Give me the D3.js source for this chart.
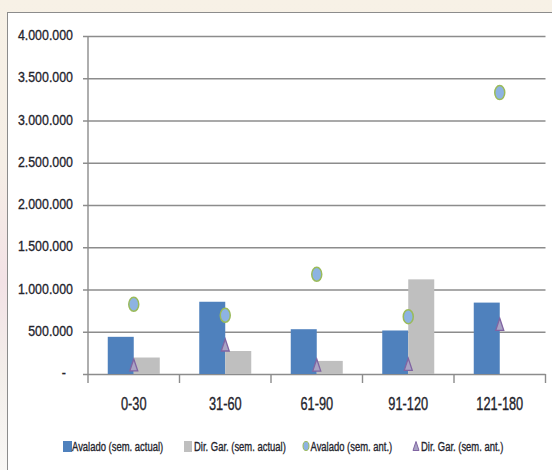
<!DOCTYPE html>
<html>
<head>
<meta charset="utf-8">
<script src="https://cdn.jsdelivr.net/npm/d3@7"></script>
<style>
  html, body { margin: 0; padding: 0; background: #ffffff; }
  svg { display: block; }
  text { font-family: "Liberation Sans", Arial, sans-serif; fill: #24242c; stroke: #24242c; stroke-width: 0.35px; }
</style>
</head>
<body>
<svg id="chart" width="552" height="470"></svg>
<script>
// Aging buckets (days) and amounts per series
const categories = ["0-30", "31-60", "61-90", "91-120", "121-180"];
const avaladoActual = [440000, 855000, 530000, 515000, 845000];
const dirGarActual = [195000, 272000, 155000, 1120000, 0];
const avaladoAnt = [825000, 695000, 1180000, 678000, 3330000];
const dirGarAnt = [107000, 343000, 106000, 115000, 588000];
const yTicks = [0, 500000, 1000000, 1500000, 2000000, 2500000, 3000000, 3500000, 4000000];
const legendLabels = ["Avalado (sem. actual)", "Dir. Gar. (sem. actual)", "Avalado (sem. ant.)", "Dir. Gar. (sem. ant.)"];

const svg = d3.select("#chart");

// soft tinted margin outside the chart frame
const defs = svg.append("defs");
const grad = defs.append("linearGradient").attr("id", "edge").attr("x1", 0).attr("y1", 0).attr("x2", 0).attr("y2", 1);
grad.append("stop").attr("offset", "0%").attr("stop-color", "#f7f1e6");
grad.append("stop").attr("offset", "35%").attr("stop-color", "#f5eee6");
grad.append("stop").attr("offset", "60%").attr("stop-color", "#f3e2e6");
grad.append("stop").attr("offset", "80%").attr("stop-color", "#f3eeea");
grad.append("stop").attr("offset", "100%").attr("stop-color", "#f8f7f5");
svg.append("rect").attr("x", 0).attr("y", 0).attr("width", 552).attr("height", 470).attr("fill", "url(#edge)");
svg.append("rect").attr("x", 7.5).attr("y", 12.5).attr("width", 560).attr("height", 480)
  .attr("fill", "#ffffff").attr("stroke", "#8c8c8c").attr("stroke-width", 1);

const plot = { left: 88, right: 545.5, top: 36, bottom: 374 };

const y = d3.scaleLinear().domain([0, 4000000]).range([plot.bottom, plot.top]);
const x = d3.scaleBand().domain(categories).range([plot.left, plot.right]).paddingInner(0).paddingOuter(0);
const barW = 26;
const sub = d3.scaleBand().domain(["actual", "dirgar"]).range([-barW, barW]);

const fmt = v => v === 0 ? "-" : d3.format(",")(v).replace(/,/g, ".");

// condensed text: horizontal squeeze around the anchor point
function squeezed(sel, px, py, sx) {
  return sel.attr("transform", `translate(${px},${py}) scale(${sx},1)`);
}

// horizontal gridlines with left tick stubs
const yAxis = d3.axisLeft(y).tickValues(yTicks).tickSize(-(plot.right - plot.left) - 5).tickFormat("");
const gy = svg.append("g").attr("transform", `translate(${plot.left - 5},0)`).call(yAxis);
gy.select(".domain").remove();
gy.selectAll(".tick line").attr("stroke", "#8c8c8c").attr("stroke-width", 1.4).attr("x1", 0).attr("x2", plot.right - plot.left + 5);

// value labels
svg.append("g").selectAll("text").data(yTicks).join("text")
  .attr("text-anchor", "end").attr("font-size", 15.5).attr("dy", "0.3em")
  .each(function (d) { squeezed(d3.select(this), d === 0 ? 66 : 73, y(d) - 0.5, 0.8); })
  .text(fmt);

// vertical value axis line
svg.append("line").attr("x1", plot.left).attr("x2", plot.left).attr("y1", plot.top).attr("y2", plot.bottom + 9)
  .attr("stroke", "#8c8c8c").attr("stroke-width", 1.4);

// category tick marks at band boundaries
const boundaries = categories.map(c => x(c)).concat([plot.right]);
svg.append("g").selectAll("line").data(boundaries.slice(1)).join("line")
  .attr("x1", d => d).attr("x2", d => d).attr("y1", plot.bottom).attr("y2", plot.bottom + 9)
  .attr("stroke", "#8c8c8c").attr("stroke-width", 1.4);

// category labels
svg.append("g").selectAll("text").data(categories).join("text")
  .attr("text-anchor", "middle").attr("font-size", 17.5)
  .each(function (d) { squeezed(d3.select(this), x(d) + x.bandwidth() / 2, 409.5, 0.73); })
  .text(d => d);

// bars
const cx = d => x(d) + x.bandwidth() / 2;
svg.append("g").selectAll("rect").data(categories).join("rect")
  .attr("x", d => cx(d) + sub("actual")).attr("width", sub.bandwidth())
  .attr("y", (d, i) => y(avaladoActual[i])).attr("height", (d, i) => y(0) - y(avaladoActual[i]))
  .attr("fill", "#4f81bd");
svg.append("g").selectAll("rect").data(categories).join("rect")
  .attr("x", d => cx(d) + sub("dirgar")).attr("width", sub.bandwidth())
  .attr("y", (d, i) => y(dirGarActual[i])).attr("height", (d, i) => y(0) - y(dirGarActual[i]))
  .attr("fill", "#bfbfbf");

// previous-period markers
const tri = (w, h) => `M0,${-h / 2}L${w / 2},${h / 2}L${-w / 2},${h / 2}Z`;
svg.append("g").selectAll("ellipse").data(categories).join("ellipse")
  .attr("cx", cx).attr("cy", (d, i) => y(avaladoAnt[i])).attr("rx", 5).attr("ry", 7)
  .attr("fill", "#8db3e2").attr("stroke", "#9bbb59").attr("stroke-width", 1.5);
svg.append("g").selectAll("path").data(categories).join("path")
  .attr("transform", (d, i) => `translate(${cx(d)},${y(dirGarAnt[i])})`)
  .attr("d", tri(8, 12))
  .attr("fill", "#a9a3c4").attr("stroke", "#8064a2").attr("stroke-width", 1.3);

// legend
const lg = svg.append("g");
const legendTextX = [72, 194, 310.5, 421];
lg.append("rect").attr("x", 63).attr("y", 441).attr("width", 9).attr("height", 11).attr("fill", "#4f81bd");
lg.append("rect").attr("x", 184).attr("y", 441).attr("width", 8).attr("height", 11).attr("fill", "#bfbfbf");
lg.append("ellipse").attr("cx", 306).attr("cy", 446).attr("rx", 3).attr("ry", 4.5)
  .attr("fill", "#8db3e2").attr("stroke", "#9bbb59").attr("stroke-width", 1);
lg.append("path").attr("transform", "translate(416,446)").attr("d", tri(6, 9))
  .attr("fill", "#a9a3c4").attr("stroke", "#8064a2").attr("stroke-width", 1);
lg.selectAll("text").data(legendLabels).join("text")
  .attr("font-size", 13.5)
  .each(function (d, i) { squeezed(d3.select(this), legendTextX[i], 451, 0.70); })
  .text(d => d);
</script>
</body>
</html>
